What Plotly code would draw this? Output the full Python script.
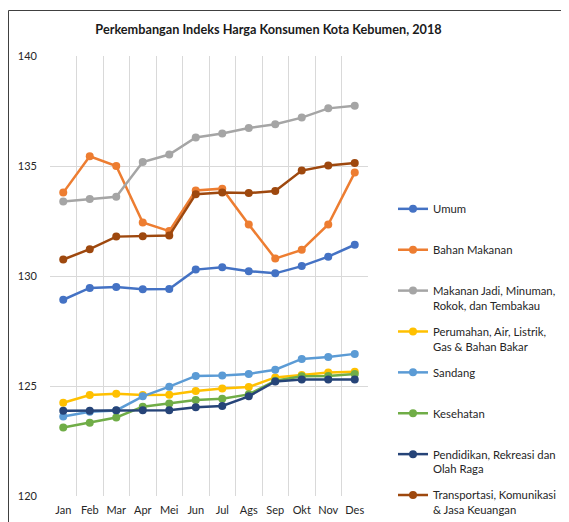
import plotly.graph_objects as go

months = ["Jan", "Feb", "Mar", "Apr", "Mei", "Jun", "Jul", "Ags", "Sep", "Okt", "Nov", "Des"]

umum = [128.92, 129.46, 129.50, 129.40, 129.41, 130.29, 130.40, 130.22, 130.12, 130.45, 130.88, 131.42]
bahan_makanan = [133.79, 135.44, 135.00, 132.43, 132.04, 133.89, 133.97, 132.34, 130.79, 131.19, 132.34, 134.70]
makanan_jadi = [133.39, 133.50, 133.60, 135.18, 135.52, 136.30, 136.48, 136.73, 136.90, 137.20, 137.62, 137.74]
perumahan = [124.24, 124.59, 124.65, 124.59, 124.60, 124.77, 124.89, 124.95, 125.39, 125.50, 125.61, 125.65]
sandang = [123.61, 123.83, 123.89, 124.53, 124.97, 125.46, 125.48, 125.55, 125.74, 126.23, 126.32, 126.46]
kesehatan = [123.11, 123.33, 123.57, 124.06, 124.21, 124.36, 124.42, 124.62, 125.24, 125.44, 125.46, 125.55]
pendidikan = [123.87, 123.87, 123.90, 123.90, 123.90, 124.03, 124.09, 124.53, 125.21, 125.30, 125.30, 125.30]
transportasi = [130.75, 131.22, 131.79, 131.81, 131.84, 133.72, 133.79, 133.77, 133.86, 134.79, 135.02, 135.14]

series_names = [
    "Umum<br> ",
    "Bahan Makanan<br> ",
    "Makanan Jadi, Minuman,<br>Rokok, dan Tembakau",
    "Perumahan, Air, Listrik,<br>Gas & Bahan Bakar",
    "Sandang<br> ",
    "Kesehatan<br> ",
    "Pendidikan, Rekreasi dan<br>Olah Raga",
    "Transportasi, Komunikasi<br>& Jasa Keuangan",
]
series_values = [umum, bahan_makanan, makanan_jadi, perumahan, sandang, kesehatan, pendidikan, transportasi]
series_colors = ["#4472C4", "#ED7D31", "#A5A5A5", "#FFC000", "#5B9BD5", "#70AD47", "#264478", "#9E480E"]

FONT = "Lato, Carlito, Calibri, sans-serif"

# the page places the figure 8px from the window's top-left corner
OFF = 8
PL, PR, PT, PB = 50 - OFF, 368 - OFF, 56 - OFF, 496 - OFF
PW, PH = PR - PL, PB - PT

fig = go.Figure()
for i, (name, vals, col) in enumerate(zip(series_names, series_values, series_colors)):
    fig.add_trace(go.Scatter(
        x=months, y=vals, name=name, mode="lines+markers",
        line=dict(color=col, width=2.5),
        marker=dict(color=col, size=8),
        legendgroup=f"g{i}",
    ))

fig.update_layout(
    width=569, height=522,
    margin=dict(l=PL, r=569 - PR, t=PT, b=522 - PB, autoexpand=False),
    paper_bgcolor="white", plot_bgcolor="white",
    font=dict(family=FONT, size=11, color="#262626"),
    title=dict(text="Perkembangan Indeks Harga Konsumen Kota Kebumen, 2018",
               x=(268.5 - OFF) / 569, xanchor="center", y=1 - (30 - OFF) / 522, yanchor="middle",
               font=dict(family=FONT, size=12.7, color="#1a1a1a", weight="bold")),
    xaxis=dict(type="category", range=[-0.5, 11.5], tickson="boundaries",
               showgrid=True, gridcolor="#D9D9D9", gridwidth=1, ticks="",
               tickangle=0, automargin=False, ticklabelstandoff=6,
               showline=False, zeroline=False, tickfont=dict(size=11, color="#262626")),
    yaxis=dict(range=[120, 140], dtick=5, showgrid=True, gridcolor="#D9D9D9",
               gridwidth=1, showline=False, zeroline=False, ticks="", automargin=False,
               ticklabelstandoff=12, tickfont=dict(size=11, color="#262626")),
    legend=dict(x=(393 - OFF - PL) / PW, xanchor="left", y=(PB - (195 - OFF)) / PH, yanchor="top",
                valign="top", tracegroupgap=8.5, font=dict(size=11.3, color="#262626"),
                itemwidth=30, bgcolor="rgba(0,0,0,0)"),
    showlegend=True,
)

bx = 8.5 - OFF
by = 10.5 - OFF
fig.add_shape(type="line", xref="paper", yref="paper",
              x0=(bx - PL) / PW, x1=(569 - PL) / PW,
              y0=(PB - by) / PH, y1=(PB - by) / PH,
              line=dict(color="#404040", width=1))
fig.add_shape(type="line", xref="paper", yref="paper",
              x0=(bx - PL) / PW, x1=(bx - PL) / PW,
              y0=(PB - by) / PH, y1=(PB - 522) / PH,
              line=dict(color="#404040", width=1))

fig.write_html("out.html")
